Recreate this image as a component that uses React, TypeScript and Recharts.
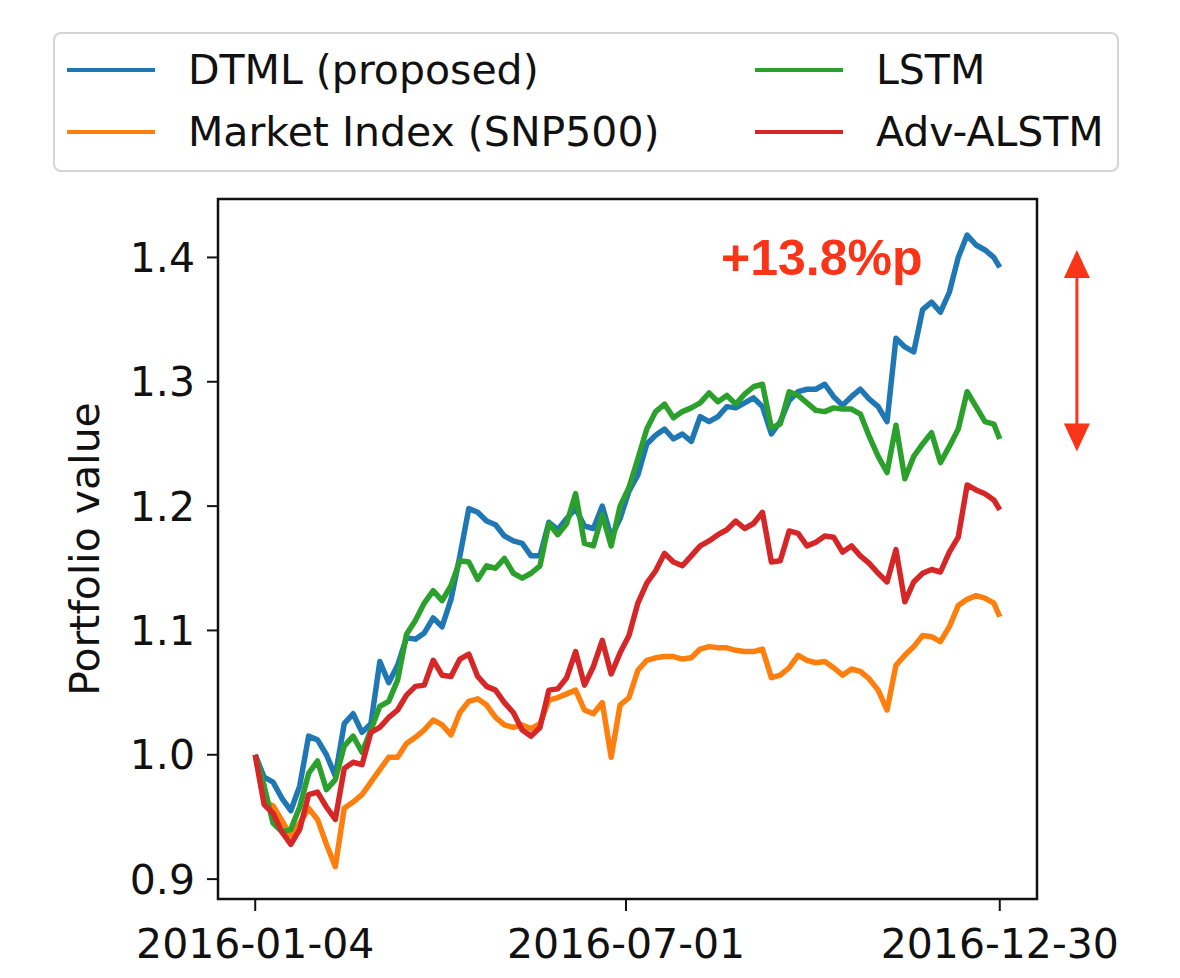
import React from "react";
import { LineChart, Line, XAxis, YAxis, ReferenceDot, ReferenceLine, ReferenceArea } from "recharts";

// trading-day index (0 = 2016-01-04, 251 = 2016-12-30)
const days = [
  0, 3, 6, 9, 12, 15, 18, 21, 24, 27, 30, 33, 36, 39, 42, 45, 48, 51, 54, 57,
  60, 63, 66, 69, 72, 75, 78, 81, 84, 87, 90, 93, 96, 99, 102, 105, 108, 111, 114, 117,
  120, 123, 126, 129, 132, 135, 138, 141, 144, 147, 150, 153, 156, 159, 162, 165, 168, 171, 174, 177,
  180, 183, 186, 189, 192, 195, 198, 201, 204, 207, 210, 213, 216, 219, 222, 225, 228, 231, 234, 237,
  240, 243, 246, 249, 251,
];

const dtml = [
  1.0, 0.982, 0.978, 0.965, 0.955, 0.975, 1.015, 1.012, 1.0, 0.983, 1.025, 1.033, 1.018, 1.025, 1.075, 1.058, 1.072, 1.094, 1.093, 1.098,
  1.11, 1.103, 1.125, 1.16, 1.198, 1.195, 1.188, 1.185, 1.176, 1.172, 1.17, 1.16, 1.16, 1.187, 1.181, 1.19, 1.198, 1.184, 1.182, 1.2,
  1.175, 1.19, 1.212, 1.225, 1.25, 1.257, 1.262, 1.254, 1.258, 1.252, 1.272, 1.268, 1.272, 1.28, 1.279, 1.283, 1.287, 1.28, 1.258, 1.268,
  1.285, 1.292, 1.294, 1.294, 1.298, 1.288, 1.281, 1.288, 1.294, 1.286, 1.28, 1.268, 1.335, 1.328, 1.324, 1.358, 1.364, 1.356, 1.372, 1.4,
  1.418, 1.41, 1.406, 1.4, 1.392,
];

const market = [
  1.0, 0.962, 0.959, 0.947, 0.935, 0.945, 0.957, 0.948, 0.928, 0.91, 0.957, 0.962, 0.968, 0.978, 0.988, 0.998, 0.998, 1.009, 1.014, 1.02,
  1.028, 1.024, 1.016, 1.034, 1.043, 1.045, 1.04, 1.03, 1.024, 1.022, 1.024, 1.021, 1.025, 1.044, 1.046, 1.049, 1.052, 1.036, 1.033, 1.042,
  0.998, 1.04, 1.046, 1.068, 1.076, 1.078, 1.079, 1.079, 1.077, 1.078, 1.085, 1.087, 1.086, 1.086, 1.084, 1.083, 1.083, 1.085, 1.062, 1.064,
  1.07, 1.08, 1.076, 1.074, 1.075, 1.07, 1.064, 1.069, 1.067, 1.061, 1.052, 1.036, 1.072, 1.08, 1.087, 1.096, 1.095, 1.091, 1.103, 1.12,
  1.125, 1.128, 1.126, 1.122, 1.111,
];

const lstm = [
  1.0, 0.975, 0.945, 0.938, 0.94, 0.958, 0.985, 0.995, 0.972, 0.98, 1.007, 1.015, 1.002, 1.02, 1.039, 1.043, 1.06, 1.097, 1.108, 1.122,
  1.132, 1.124, 1.136, 1.156, 1.155, 1.141, 1.152, 1.15, 1.158, 1.146, 1.142, 1.146, 1.152, 1.186, 1.177, 1.186, 1.21, 1.17, 1.168, 1.193,
  1.168, 1.2, 1.215, 1.238, 1.262, 1.276, 1.282, 1.271, 1.276, 1.279, 1.283, 1.291, 1.284, 1.289, 1.282, 1.29, 1.296, 1.298, 1.263, 1.266,
  1.292, 1.289, 1.283, 1.277, 1.276, 1.279, 1.278, 1.278, 1.274, 1.256, 1.24, 1.227, 1.265, 1.222, 1.24, 1.25, 1.259, 1.235, 1.248, 1.262,
  1.292, 1.28, 1.268, 1.266, 1.254,
];

const advAlstm = [
  1.0, 0.96, 0.953, 0.938, 0.928, 0.94, 0.968, 0.97, 0.958, 0.948, 0.989, 0.994, 0.992, 1.018, 1.022, 1.03, 1.036, 1.048, 1.055, 1.056,
  1.076, 1.064, 1.063, 1.077, 1.081, 1.063, 1.055, 1.052, 1.042, 1.034, 1.02, 1.015, 1.022, 1.052, 1.053, 1.062, 1.083, 1.056, 1.071, 1.092,
  1.065, 1.082, 1.096, 1.122, 1.138, 1.148, 1.162, 1.155, 1.152, 1.16, 1.168, 1.172, 1.177, 1.181, 1.188, 1.182, 1.186, 1.195, 1.155, 1.156,
  1.18, 1.178, 1.168, 1.171, 1.176, 1.175, 1.163, 1.168, 1.16, 1.154, 1.146, 1.139, 1.165, 1.123, 1.139, 1.146, 1.149, 1.147, 1.163, 1.175,
  1.217, 1.213, 1.21, 1.205, 1.197,
];

const xTicks = [0, 125, 251];
const xTickLabels = ["2016-01-04", "2016-07-01", "2016-12-30"];
const yTicks = [0.9, 1.0, 1.1, 1.2, 1.3, 1.4];

const series = [
  { key: "dtml", name: "DTML (proposed)", color: "#1f77b4" },
  { key: "market", name: "Market Index (SNP500)", color: "#ff7f0e" },
  { key: "lstm", name: "LSTM", color: "#2ca02c" },
  { key: "advAlstm", name: "Adv-ALSTM", color: "#d62728" },
];

// annotation: gap between DTML and LSTM at the end of the year
const gapText = "+13.8%p";
const gapTextAt = { day: 191, value: 1.4 };
const gapArrow = { day: 277, low: 1.244, high: 1.406 };

const rows = days.map((d, i) => ({
  day: d,
  dtml: dtml[i],
  market: market[i],
  lstm: lstm[i],
  advAlstm: advAlstm[i],
}));

const RED = "#f93417";
const INK = "#111";
const FONT = "DejaVu Sans";
const W = 1164;
const H = 962;

function YTitle(props: any) {
  const vb = props.viewBox;
  const x = vb.x + 36;
  const y = vb.y + vb.height / 2;
  return (
    <text
      x={x}
      y={y}
      transform={`rotate(-90, ${x}, ${y})`}
      textAnchor="middle"
      dy="0.36em"
      fontFamily={FONT}
      fontSize={41}
      fill={INK}
    >
      Portfolio value
    </text>
  );
}

function GapLabel(props: any) {
  return (
    <text
      x={props.cx}
      y={props.cy}
      dy="0.36em"
      textAnchor="middle"
      fontFamily="Liberation Sans"
      fontWeight="bold"
      fontSize={50}
      fill={RED}
    >
      {gapText}
    </text>
  );
}

function DoubleArrow(props: any) {
  const { x1, y1, y2 } = props;
  const top = Math.min(y1, y2);
  const bottom = Math.max(y1, y2);
  const head = 28;
  const half = 13;
  return (
    <g>
      <line x1={x1} y1={top + head - 2} x2={x1} y2={bottom - head + 2} stroke={RED} strokeWidth={3} />
      <polygon points={`${x1},${top} ${x1 - half},${top + head} ${x1 + half},${top + head}`} fill={RED} />
      <polygon points={`${x1},${bottom} ${x1 - half},${bottom - head} ${x1 + half},${bottom - head}`} fill={RED} />
    </g>
  );
}

function LegendBox() {
  return (
    <div
      style={{
        position: "absolute",
        left: 45,
        top: 24,
        width: 1050,
        height: 131,
        border: "2px solid #d4d4d4",
        borderRadius: 8,
        display: "grid",
        gridTemplateColumns: "688px auto",
        gridTemplateRows: "62px 62px",
        gridAutoFlow: "column",
        paddingTop: 5,
        paddingLeft: 12,
        boxSizing: "content-box",
        background: "#fff",
        fontFamily: FONT,
        fontSize: 41,
        color: INK,
      }}
    >
      {series.map((s) => (
        <div key={s.key} style={{ display: "flex", alignItems: "center" }}>
          <span style={{ width: 88, height: 4, background: s.color, marginRight: 33 }} />
          <span style={{ lineHeight: 1 }}>{s.name}</span>
        </div>
      ))}
    </div>
  );
}

export default function App() {
  const xDomain = [-12.55, 263.55];
  const yDomain = [0.884, 1.447];
  return (
    <div style={{ position: "relative", width: W, height: H, fontFamily: FONT }}>
      <LineChart width={W} height={H} data={rows} margin={{ top: 191, right: 135, bottom: 0, left: 40 }}>
        <XAxis
          dataKey="day"
          type="number"
          domain={xDomain}
          allowDataOverflow
          ticks={xTicks}
          interval={0}
          tickFormatter={(d: number) => xTickLabels[xTicks.indexOf(d)]}
          height={71}
          tickSize={12}
          tickMargin={18}
          tick={{ fontFamily: FONT, fontSize: 41, fill: INK }}
          tickLine={{ stroke: INK, strokeWidth: 2 }}
          axisLine={false}
        />
        <YAxis
          type="number"
          domain={yDomain}
          allowDataOverflow
          ticks={yTicks}
          interval={0}
          tickFormatter={(v: number) => v.toFixed(1)}
          width={170}
          tickSize={11}
          tickMargin={12}
          tick={{ fontFamily: FONT, fontSize: 41, fill: INK }}
          tickLine={{ stroke: INK, strokeWidth: 2 }}
          axisLine={false}
          label={{ content: YTitle }}
        />
        {series.map((s) => (
          <Line
            key={s.key}
            dataKey={s.key}
            name={s.name}
            type="linear"
            stroke={s.color}
            strokeWidth={5.5}
            strokeLinejoin="round"
            dot={false}
            activeDot={false}
            isAnimationActive={false}
          />
        ))}
        <ReferenceArea
          x1={xDomain[0]}
          x2={xDomain[1]}
          y1={yDomain[0]}
          y2={yDomain[1]}
          fill="none"
          fillOpacity={0}
          stroke={INK}
          strokeWidth={2.5}
          ifOverflow="visible"
        />
        <ReferenceDot x={gapTextAt.day} y={gapTextAt.value} r={0} ifOverflow="visible" shape={GapLabel} />
        <ReferenceLine
          segment={[
            { x: gapArrow.day, y: gapArrow.high },
            { x: gapArrow.day, y: gapArrow.low },
          ]}
          ifOverflow="visible"
          shape={DoubleArrow}
        />
      </LineChart>
      <LegendBox />
    </div>
  );
}
